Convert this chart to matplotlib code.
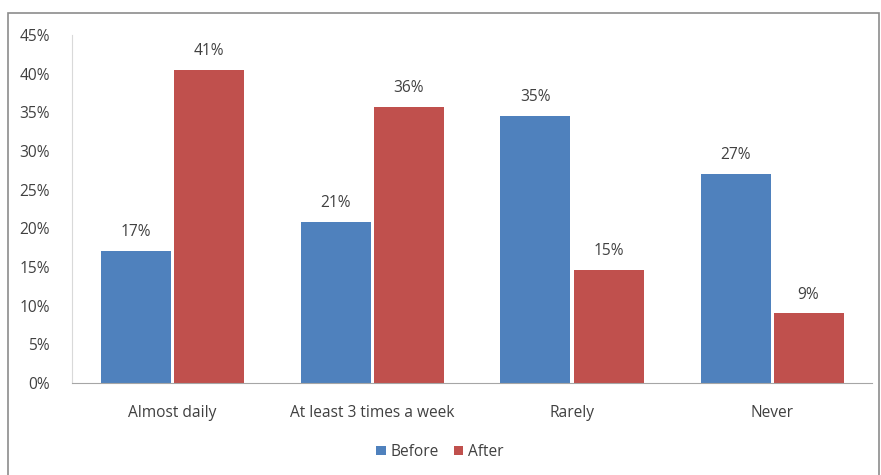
import numpy as np
import matplotlib
matplotlib.use("Agg")
import matplotlib.pyplot as plt
from matplotlib.patches import Rectangle
from matplotlib.ticker import PercentFormatter

categories = ["Almost daily", "At least 3 times a week", "Rarely", "Never"]
before = [17.1, 20.8, 34.5, 27.0]
after = [40.5, 35.7, 14.6, 9.0]
yticks = [0, 5, 10, 15, 20, 25, 30, 35, 40, 45]

BLUE = "#4F81BD"
RED = "#C0504D"
TXT = "#404040"
FS = 11.2

plt.rcParams["font.family"] = ["Open Sans", "DejaVu Sans"]
plt.rcParams["font.size"] = FS

fig = plt.figure(figsize=(8.81, 4.75), dpi=100)
# chart-area border
fig.patches.append(Rectangle((8 / 881, -0.01), 871 / 881, 1 - 13 / 475 + 0.01,
                             transform=fig.transFigure, fill=False,
                             edgecolor="#8c8c8c", linewidth=1.2))

ax = fig.add_axes([72 / 881, 1 - 383 / 475, 800 / 881, 348 / 475])

x = np.arange(len(categories))
w = 0.35
b1 = ax.bar(x - w / 2 - 0.0075, before, w, color=BLUE, label="Before")
b2 = ax.bar(x + w / 2 + 0.0075, after, w, color=RED, label="After")

for bars, vals in ((b1, before), (b2, after)):
    for rect, v in zip(bars, vals):
        ax.text(rect.get_x() + rect.get_width() / 2, v + 1.4,
                f"{int(np.floor(v + 0.5))}%",
                ha="center", va="bottom", color=TXT, fontsize=FS)

ax.set_xlim(-0.5, len(categories) - 0.5)
ax.set_ylim(0, 45)
ax.set_yticks(yticks)
ax.yaxis.set_major_formatter(PercentFormatter(decimals=0))
ax.set_xticks(x)
ax.set_xticklabels(categories)
ax.tick_params(axis="both", length=0, colors=TXT, labelsize=FS)
ax.tick_params(axis="x", pad=16)
ax.tick_params(axis="y", pad=16)

for s in ("top", "right"):
    ax.spines[s].set_visible(False)
ax.spines["left"].set_color("#d9d9d9")
ax.spines["bottom"].set_color("#a6a6a6")

ax.legend(loc="center", bbox_to_anchor=(440 / 881, 1 - 452 / 475),
          bbox_transform=fig.transFigure, ncol=2, frameon=False,
          handlelength=0.6, handleheight=0.6, handletextpad=0.3,
          columnspacing=1.0, labelcolor=TXT, fontsize=FS)

fig.savefig("out.png", dpi=100)
